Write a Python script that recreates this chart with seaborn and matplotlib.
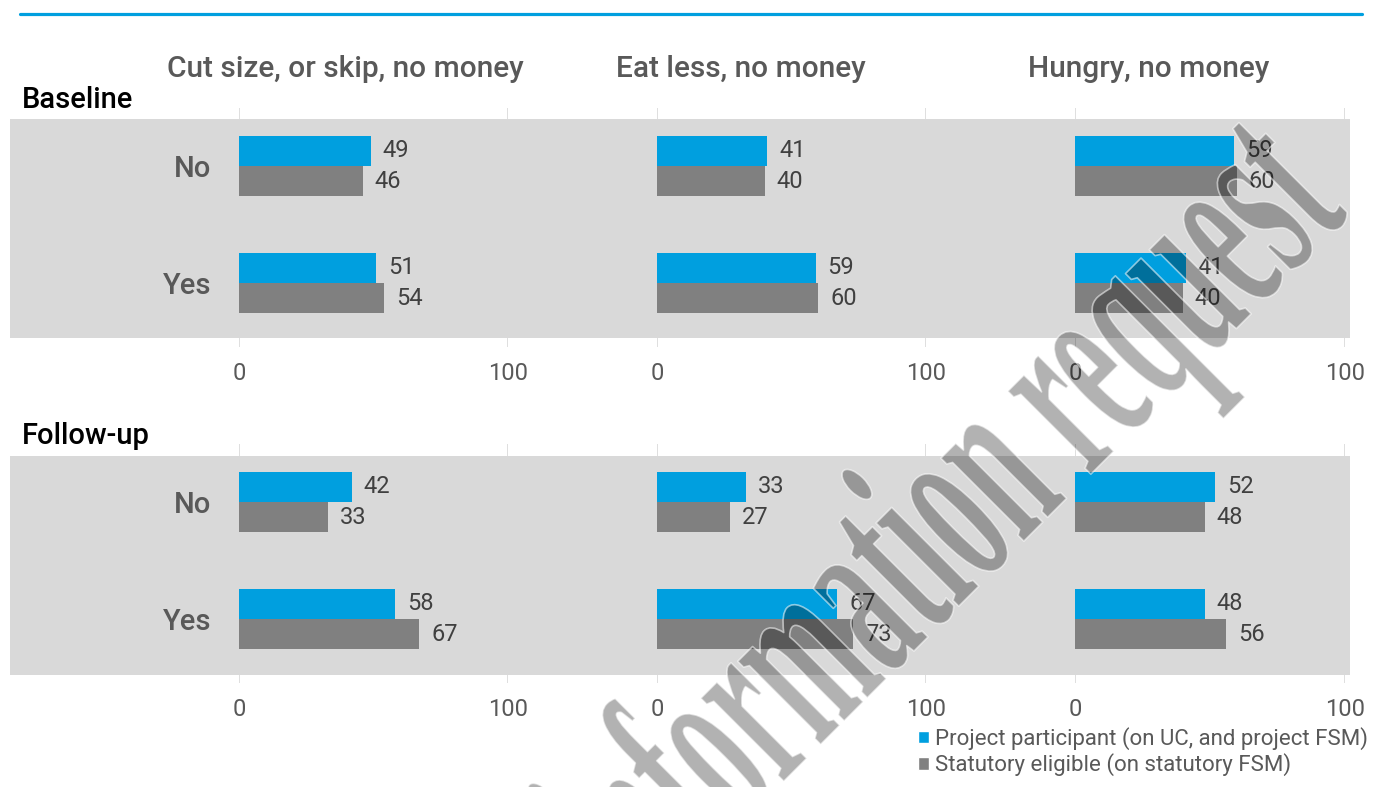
import matplotlib
matplotlib.use("Agg")
import numpy as np
import pandas as pd
import matplotlib.pyplot as plt
import seaborn as sns
from matplotlib.patches import Rectangle
from matplotlib.lines import Line2D
from matplotlib.transforms import Affine2D
from matplotlib.patheffects import AbstractPathEffect
import matplotlib.colors as mcolors

# ---- data -------------------------------------------------------------
measures = ["Cut size, or skip, no money", "Eat less, no money", "Hungry, no money"]
periods = ["Baseline", "Follow-up"]
answers = ["No", "Yes"]
groups = ["Project participant (on UC, and project FSM)",
          "Statutory eligible (on statutory FSM)"]

# percentages per measure, ordered as [No, Yes]
baseline_participant = [[49, 51], [41, 59], [59, 41]]
baseline_statutory = [[46, 54], [40, 60], [60, 40]]
followup_participant = [[42, 58], [33, 67], [52, 48]]
followup_statutory = [[33, 67], [27, 73], [48, 56]]

values = {
    ("Baseline", groups[0]): baseline_participant,
    ("Baseline", groups[1]): baseline_statutory,
    ("Follow-up", groups[0]): followup_participant,
    ("Follow-up", groups[1]): followup_statutory,
}
rows = []
for (period, group), table in values.items():
    for m, measure in enumerate(measures):
        for a, answer in enumerate(answers):
            rows.append(dict(period=period, measure=measure, answer=answer,
                             group=group, pct=table[m][a]))
df = pd.DataFrame(rows)

# ---- style ------------------------------------------------------------
BLUE = "#009FDF"
GREY = "#808080"
BAND = "#D9D9D9"
TXT = "#595959"
VAL = "#404040"

sns.set_theme(style="white")
plt.rcParams["font.family"] = ["Roboto", "DejaVu Sans"]

W, H = 1374, 787
fig = plt.figure(figsize=(W / 100, H / 100), dpi=100)
fig.patch.set_facecolor("white")


def fx(px):
    return px / W


def fy(py):
    return 1 - py / H


# top rule
fig.add_artist(Line2D([fx(20), fx(1362)], [fy(14), fy(14)], color=BLUE, lw=2.3,
                      transform=fig.transFigure))

row_top = [108, 444]
band_top = [119, 456]
axes_h = 239
col_x0 = [239, 657, 1075]
col_w = [269, 269, 270]
title_x = [345, 741, 1149]
row_label_y = [100, 436]

for r, period in enumerate(periods):
    # shaded band behind each row of panels
    fig.add_artist(Rectangle((fx(10), fy(band_top[r] + 219)), fx(1350) - fx(10),
                             219 / H, transform=fig.transFigure,
                             facecolor=BAND, edgecolor="none", zorder=-1))
    fig.text(fx(22), fy(row_label_y[r]), period, ha="left", va="center",
             fontsize=21, fontweight="medium", color="black")
    for c, measure in enumerate(measures):
        ax = fig.add_axes([fx(col_x0[c]), fy(row_top[r] + axes_h),
                           col_w[c] / W, axes_h / H])
        ax.set_facecolor("none")
        sub = df[(df.period == period) & (df.measure == measure)]
        sns.barplot(data=sub, x="pct", y="answer", hue="group", order=answers,
                    hue_order=groups, palette=[BLUE, GREY], width=0.52,
                    saturation=1, orient="h", errorbar=None, legend=False,
                    linewidth=0, ax=ax)
        for cont in ax.containers:
            ax.bar_label(cont, fmt="{:.0f}", padding=8.5, fontsize=17, color=VAL)
        ax.set_xlim(0, 100)
        ax.set_ylim(1.547, -0.496)
        ax.set_xticks([0, 100])
        ax.grid(axis="x", color=BAND, lw=1.2)
        ax.grid(axis="y", visible=False)
        for s in ax.spines.values():
            s.set_visible(False)
        ax.set_xlabel("")
        ax.set_ylabel("")
        ax.tick_params(axis="x", length=0, pad=11, labelsize=17, labelcolor=TXT)
        ax.set_yticks([-0.496, 1.547], minor=True)
        ax.tick_params(axis="y", which="minor", length=6, width=1.2, color=BAND)
        if c == 0:
            ax.tick_params(axis="y", which="major", length=0, pad=20,
                           labelsize=21, labelcolor=TXT)
            for lab in ax.get_yticklabels():
                lab.set_fontweight("medium")
        else:
            ax.tick_params(axis="y", which="major", length=0, labelleft=False)
        if r == 0:
            fig.text(fx(title_x[c]), fy(69), measure, ha="center", va="center",
                     fontsize=21.5, fontweight="medium", color=TXT)

# legend
handles = [Rectangle((0, 0), 1, 1, facecolor=BLUE), Rectangle((0, 0), 1, 1, facecolor=GREY)]
fig.legend(handles, groups, loc="upper left", bbox_to_anchor=(fx(918), fy(727)),
           frameon=False, fontsize=16, handlelength=0.5, handleheight=0.5,
           handletextpad=0.25, labelspacing=0.15, borderaxespad=0, borderpad=0,
           labelcolor=TXT)


# condensed, translucent rendering for the diagonal stamp text
class CondensedFill(AbstractPathEffect):
    def __init__(self, squeeze, facecolor, edgecolor, linewidth):
        super().__init__()
        self._squeeze = squeeze
        self._fc = mcolors.to_rgba(facecolor)
        self._ec = mcolors.to_rgba(edgecolor)
        self._lw = linewidth

    def draw_path(self, renderer, gc, tpath, affine, rgbFace=None):
        gc0 = renderer.new_gc()
        gc0.copy_properties(gc)
        gc0.set_foreground(self._ec, isRGBA=True)
        gc0.set_linewidth(self._lw)
        renderer.draw_path(gc0, tpath, Affine2D().scale(self._squeeze, 1) + affine,
                           self._fc)
        gc0.restore()


fig.text(fx(643), fy(922), "information request", rotation=45,
         rotation_mode="anchor", ha="left", va="baseline", fontsize=184,
         family="Liberation Serif", fontweight="bold", zorder=10,
         path_effects=[CondensedFill(0.46, (0, 0, 0, 0.3), (1, 1, 1, 0.55), 1.2)])

fig.savefig("out.png", dpi=100)
